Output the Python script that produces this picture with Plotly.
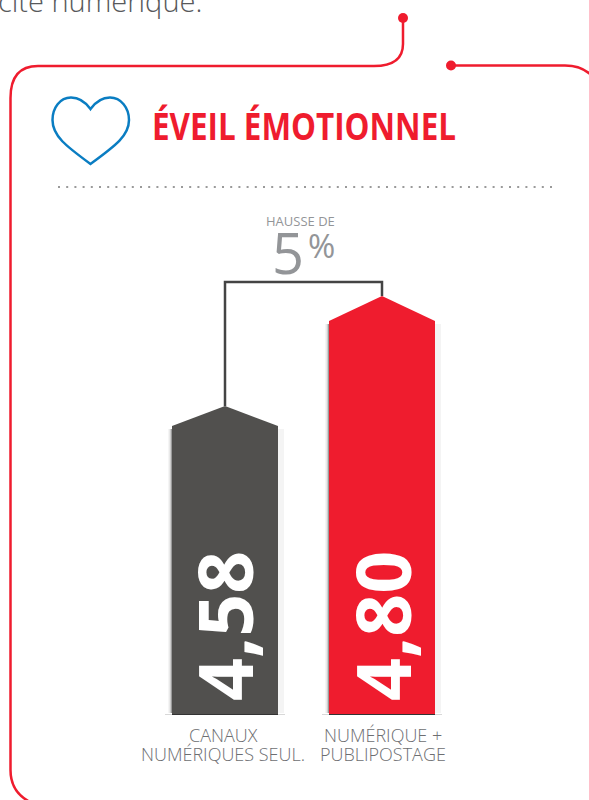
import plotly.graph_objects as go

categories = ["CANAUX|NUMÉRIQUES SEUL.", "NUMÉRIQUE +|PUBLIPOSTAGE"]
values = [4.58, 4.80]
colors = ["#51504E", "#EF1C2E"]
title = "ÉVEIL ÉMOTIONNEL"
intro = "cité numérique."
rise_label = "HAUSSE DE"
rise_value = "5"
rise_unit = "%"

W, H = 589, 800
PX_PER_UNIT = 500.0
PX_PER_CAT = 157.0
X0, Y_REF, V_REF = 225.0, 406.0, 4.58
BASE_PX = 714.0
HALF = 53.0 / PX_PER_CAT
SHOULDERS = [20.0 / PX_PER_UNIT, 25.0 / PX_PER_UNIT]
vb = V_REF - (BASE_PX - Y_REF) / PX_PER_UNIT
RED = "#EF1C2E"


def px(x):
    return x / W


def py(y):
    return 1 - y / H


def path(cmds):
    out = []
    for c in cmds:
        pts = " ".join(f"{px(c[i]):.5f},{py(c[i + 1]):.5f}" for i in range(1, len(c), 2))
        out.append(c[0] + pts)
    return " ".join(out)


fig = go.Figure()

# shadows / base lines (behind the bars)
shapes = []
for i, v in enumerate(values):
    cx = X0 + i * PX_PER_CAT
    top = Y_REF + (V_REF - v) * PX_PER_UNIT + SHOULDERS[i] * PX_PER_UNIT
    strips = [(-54, -53, "rgba(70,70,70,0.55)"), (-55, -54, "rgba(90,90,90,0.30)"),
              (-56, -55, "rgba(110,110,110,0.15)"), (-57, -56, "rgba(120,120,120,0.07)"),
              (53, 59, "rgba(120,120,120,0.08)")]
    for dx0, dx1, col in strips:
        shapes.append(dict(type="rect", xref="paper", yref="paper", x0=px(cx + dx0), x1=px(cx + dx1),
                           y0=py(713), y1=py(top + 3), fillcolor=col, line_width=0, layer="below"))
    shapes.append(dict(type="line", xref="paper", yref="paper", x0=px(cx - 60), x1=px(cx + 60),
                       y0=py(714.5), y1=py(714.5), line=dict(color="rgba(200,200,200,0.7)", width=1), layer="below"))
    shapes.append(dict(type="line", xref="paper", yref="paper", x0=px(cx - 53), x1=px(cx + 53),
                       y0=py(714.5), y1=py(714.5), line=dict(color="#333333", width=1), layer="above"))

# bracket
bracket_top = values[1] + 14.0 / PX_PER_UNIT
fig.add_trace(go.Scatter(x=[0, 0, 1, 1], y=[values[0], bracket_top, bracket_top, values[1]], mode="lines",
                         line=dict(color="#444444", width=2.5), hoverinfo="skip", showlegend=False))

# bars
for i, v in enumerate(values):
    s = SHOULDERS[i]
    fig.add_trace(go.Scatter(
        x=[i - HALF, i - HALF, i, i + HALF, i + HALF, i - HALF],
        y=[vb, v - s, v, v - s, vb, vb],
        mode="lines", fill="toself", fillcolor=colors[i], line=dict(width=0, color=colors[i]),
        hoverinfo="skip", showlegend=False))

# card outline
red_line = dict(color=RED, width=2.5)
shapes.append(dict(type="path", xref="paper", yref="paper", line=red_line, path=path([
    ("M", 403, 18), ("L", 403, 44), ("Q", 403, 66, 374, 66), ("L", 38, 66),
    ("Q", 10.5, 66, 10.5, 98), ("L", 10.5, 770), ("Q", 10.5, 792, 30, 802)])))
shapes.append(dict(type="path", xref="paper", yref="paper", line=red_line, path=path([
    ("M", 451, 65.5), ("L", 565, 65.5), ("Q", 582, 65.5, 592, 76)])))
for cx, cy, r in [(403, 18, 5), (451, 65.5, 5)]:
    shapes.append(dict(type="circle", xref="paper", yref="paper", x0=px(cx - r), x1=px(cx + r),
                       y0=py(cy + r), y1=py(cy - r), fillcolor=RED, line_width=0))
# heart
shapes.append(dict(type="path", xref="paper", yref="paper", line=dict(color="#0A7DC2", width=2.5), path=path([
    ("M", 90.5, 109), ("C", 84, 100, 76, 97.5, 71, 97.5), ("C", 60, 97.5, 52.5, 108, 52.5, 120),
    ("C", 52.5, 136, 66, 146, 90.5, 164), ("C", 115, 146, 129, 136, 129, 120),
    ("C", 129, 108, 121, 97.5, 110, 97.5), ("C", 105, 97.5, 97, 100, 90.5, 109)]) + " Z"))
# dotted rule
shapes.append(dict(type="line", xref="paper", yref="paper", x0=px(58), x1=px(553), y0=py(187), y1=py(187),
                   line=dict(color="#9A9A9A", width=2, dash="2px,6.2px")))


def note(text, x, y, size, color, family="Open Sans", weight=400, xanchor="center", yanchor="middle", angle=0):
    fig.add_annotation(xref="paper", yref="paper", x=px(x), y=py(y), text=text, showarrow=False,
                       xanchor=xanchor, yanchor=yanchor, textangle=angle,
                       font=dict(family=family, size=size, color=color, weight=weight),
                       borderpad=0, borderwidth=0)


note(intro, -2, 0, 29, "#58595B", weight=300, xanchor="left")
note(title, 304, 125, 38, RED, weight=700)
note(rise_label, 300, 221, 13, "#939598")
note(rise_value, 287.5, 252, 56, "#939598", weight=400)
note(rise_unit, 321, 245, 33, "#939598", weight=400)

for i, v in enumerate(values):
    cx = X0 + i * PX_PER_CAT
    note(f"{v:.2f}".replace(".", ","), cx - 1 if i == 0 else cx, 626, 75, "#FFFFFF", weight=700, angle=-90)
    a, b = categories[i].split("|")
    note(a, cx - 2 if i == 0 else cx + 1, 735, 18, "#6D6E71", weight=300)
    note(b, cx - 2 if i == 0 else cx + 1, 754, 18, "#6D6E71", weight=300)

fig.update_layout(
    width=W, height=H, margin=dict(l=0, r=0, t=0, b=0), autosize=False,
    paper_bgcolor="#FFFFFF", plot_bgcolor="#FFFFFF", showlegend=False, shapes=shapes,
    xaxis=dict(range=[-X0 / PX_PER_CAT, (W - X0) / PX_PER_CAT], visible=False, fixedrange=True),
    yaxis=dict(range=[V_REF - (H - Y_REF) / PX_PER_UNIT, V_REF + Y_REF / PX_PER_UNIT], visible=False, fixedrange=True),
)
squeeze = (
    "document.body.style.margin='0';document.body.style.overflow='hidden';"
    "document.querySelectorAll('.annotation-text').forEach(function(t){"
    "if(t.textContent==='" + title + "'){t.setAttribute('textLength','304');"
    "t.setAttribute('lengthAdjust','spacingAndGlyphs');}});"
)
fig.write_html("out.html", config={"displayModeBar": False}, post_script=squeeze)
